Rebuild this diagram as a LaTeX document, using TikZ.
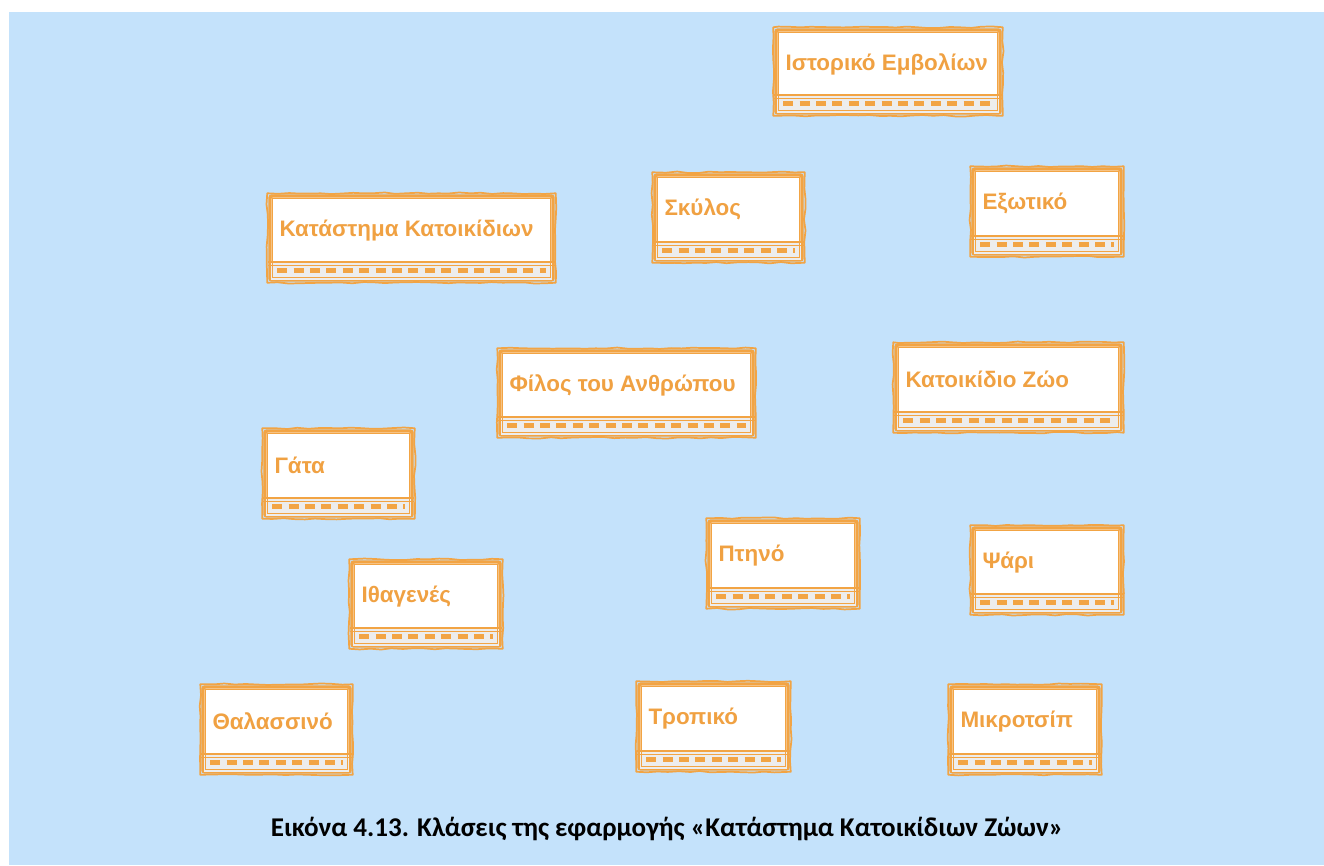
\documentclass[tikz,border=0pt]{standalone}
\usepackage{fontspec}
\newfontfamily\lblfont{Liberation Sans}
\newfontfamily\capfont{Carlito}
\usetikzlibrary{calc,decorations.pathmorphing}
\definecolor{bgblue}{HTML}{C4E2FB}
\definecolor{boxorange}{HTML}{F2A444}
\definecolor{txtorange}{HTML}{F0A142}
\definecolor{stripgray}{HTML}{EDEDED}
\tikzset{
  classbox/.style={draw=boxorange, line width=2.6pt, fill=white, rectangle, rounded corners=1.5pt, inner sep=0pt},
  sketchline/.style={draw=boxorange, line width=1.3pt, line cap=round, line join=round, decorate, decoration={random steps, segment length=8pt, amplitude=0.6pt}},
  innerline/.style={draw=boxorange, line width=0.7pt},
  stripdash/.style={draw=boxorange, line width=4pt, dash pattern=on 7.5pt off 4.8pt},
  ctext/.style={text=txtorange, font=\lblfont\bfseries\fontsize{16.8}{19}\selectfont, anchor=west, inner sep=0pt},
  captext/.style={text=black, font=\capfont\bfseries\fontsize{20.3}{24}\selectfont, inner sep=0pt}
}
\newcommand\umlclass[6]{%
  \node[classbox, minimum width={(#4-#2)*0.75pt}, minimum height={(#5-#3)*0.75pt}] (#1) at ({(#2+#4)/2},{(#3+#5)/2}) {};
  \fill[stripgray] ($(#1.south west)+(3,-19)$) rectangle ($(#1.south east)+(-3,-2)$);
  \draw[innerline] ($(#1.north west)+(4,4)$) rectangle ($(#1.south east)+(-4,-4)$);
  \draw[boxorange, line width=1.8pt] ($(#1.south west)+(0,-20)$) -- ($(#1.south east)+(0,-20)$);
  \draw[innerline] ($(#1.south west)+(0,-16.5)$) -- ($(#1.south east)+(0,-16.5)$);
  \draw[stripdash] ($(#1.south west)+(9,-11)$) -- ($(#1.south east)+(-9,-11)$);
  \draw[sketchline] ($(#1.north west)+(-1,-1)$) rectangle ($(#1.south east)+(1,1)$);
  \node[ctext] (#1-t) at ($(#1.north west)+(11,36)$) {#6};
}
\pgfmathsetseed{7}
\begin{document}
\begin{tikzpicture}[x=0.75pt, y=-0.75pt]
\useasboundingbox (0,0) rectangle (1324,865);
\fill[white] (0,0) rectangle (1324,865);
\fill[bgblue] (9,12) rectangle (1324,865);
\umlclass{hist}{776}{30}{1000}{113}{Ιστορικό Εμβολίων}
\umlclass{shop}{270}{196}{553}{280}{Κατάστημα Κατοικίδιων}
\umlclass{dog}{655}{175}{802}{260}{Σκύλος}
\umlclass{exot}{973}{169}{1121}{254}{Εξωτικό}
\umlclass{friend}{500}{351}{753}{435}{Φίλος του Ανθρώπου}
\umlclass{pet}{896}{345}{1121}{430}{Κατοικίδιο Ζώο}
\umlclass{cat}{265}{431}{412}{516}{Γάτα}
\umlclass{bird}{709}{521}{857}{606}{Πτηνό}
\umlclass{fish}{973}{528}{1121}{612}{Ψάρι}
\umlclass{native}{352}{562}{500}{646}{Ιθαγενές}
\umlclass{sea}{203}{687}{350}{772}{Θαλασσινό}
\umlclass{trop}{639}{684}{788}{769}{Τροπικό}
\umlclass{chip}{951}{687}{1099}{772}{Μικροτσίπ}
\node[captext] (cap) at (667,829) {Εικόνα 4.13. Κλάσεις της εφαρμογής «Κατάστημα Κατοικίδιων Ζώων»};
\end{tikzpicture}
\end{document}
